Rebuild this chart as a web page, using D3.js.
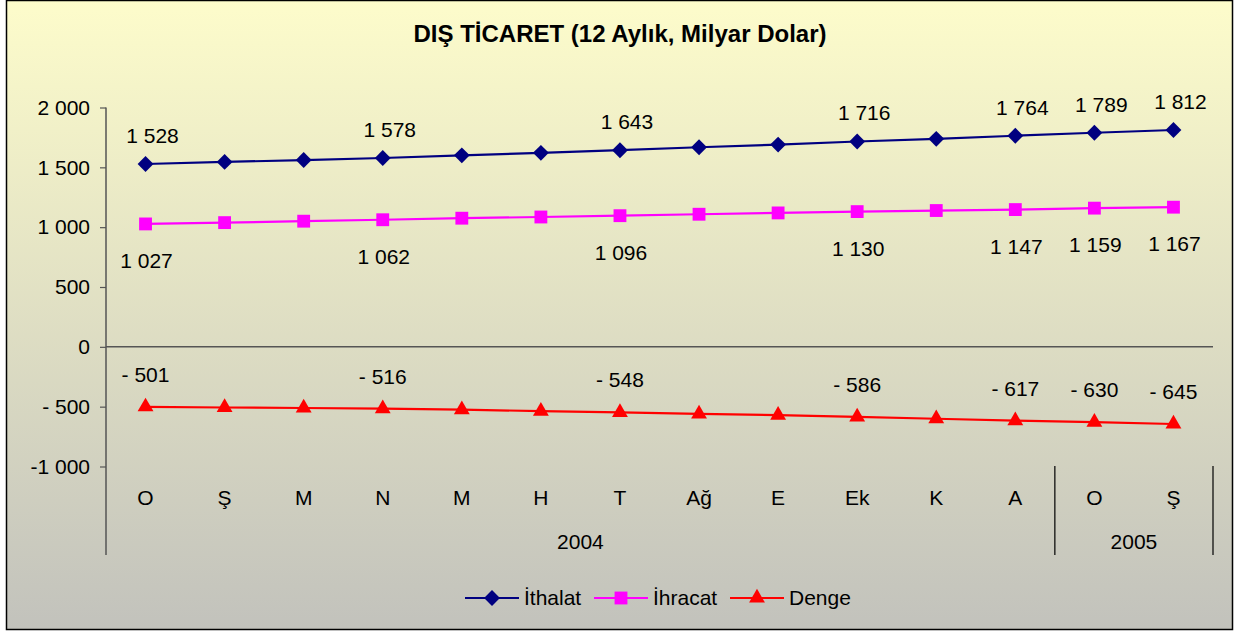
<!DOCTYPE html>
<html>
<head>
<meta charset="utf-8">
<script src="https://cdn.jsdelivr.net/npm/d3@7"></script>
<style>
  body { margin: 0; background: #fff; }
  svg text { font-family: "Liberation Sans", Arial, sans-serif; fill: #000; }
</style>
</head>
<body>
<div id="chart"></div>
<script>
// months shown on the category axis
const months = ['O', 'Ş', 'M', 'N', 'M', 'H', 'T', 'Ağ', 'E', 'Ek', 'K', 'A', 'O', 'Ş']
const years = [{ label: '2004', from: 0, to: 12 }, { label: '2005', from: 12, to: 14 }]
const ithalat = [1528, 1545, 1561, 1578, 1600, 1621, 1643, 1668, 1690, 1716, 1738, 1764, 1789, 1812]
const ihracat = [1027, 1038, 1050, 1062, 1075, 1085, 1096, 1108, 1119, 1130, 1139, 1147, 1159, 1167]
const denge = [-501, -507, -511, -516, -525, -537, -548, -560, -571, -586, -601, -617, -630, -645]
const labelled = [0, 3, 6, 9, 11, 12, 13]
const yTicks = [-1000, -500, 0, 500, 1000, 1500, 2000]
const yTickLabels = ['-1 000', '- 500', '0', '500', '1 000', '1 500', '2 000']

const W = 1237, H = 632
const FS = 21

let svg = d3.select('#chart').append('svg')
    .attr('width', W)
    .attr('height', H)

// background gradient
let grad = svg.append('defs').append('linearGradient')
    .attr('id', 'bg')
    .attr('x1', 0).attr('y1', 0).attr('x2', 0).attr('y2', 1)
grad.append('stop').attr('offset', '0%').attr('stop-color', '#fdfccb')
grad.append('stop').attr('offset', '100%').attr('stop-color', '#c2c2bc')

svg.append('rect')
    .attr('x', 6.5).attr('y', 0.5)
    .attr('width', 1226).attr('height', 629)
    .attr('fill', 'url(#bg)')
    .attr('stroke', '#000')
    .attr('stroke-width', 1.5)

svg.append('text')
    .attr('x', 620).attr('y', 42)
    .attr('text-anchor', 'middle')
    .attr('font-size', 24)
    .attr('font-weight', 'bold')
    .text('DIŞ TİCARET (12 Aylık, Milyar Dolar)')

// scales
let x = d3.scaleBand().domain(d3.range(months.length)).range([106, 1213]).padding(0)
let cx = i => x(i) + x.bandwidth() / 2
let y = d3.scaleLinear().domain([-1000, 2000]).range([466.5, 107.5])

// y axis
let yAxis = svg.append('g')
    .attr('transform', 'translate(106,0)')
    .call(d3.axisLeft(y).tickValues(yTicks).tickSize(6).tickPadding(10)
        .tickFormat((d, i) => yTickLabels[i]))
yAxis.select('.domain').remove()
yAxis.selectAll('line').attr('stroke', '#555').attr('stroke-width', 1.2)
yAxis.selectAll('text').attr('font-size', FS).attr('font-family', '"Liberation Sans", Arial, sans-serif')

svg.append('line')
    .attr('x1', 106).attr('x2', 106)
    .attr('y1', y(2000)).attr('y2', 555)
    .attr('stroke', '#555').attr('stroke-width', 1.5)

// zero line
svg.append('line')
    .attr('x1', 106).attr('x2', 1213)
    .attr('y1', y(0)).attr('y2', y(0))
    .attr('stroke', '#555').attr('stroke-width', 1.5)

// category labels
svg.append('g').selectAll('text')
    .data(months)
    .join('text')
    .attr('x', (d, i) => cx(i))
    .attr('y', 505)
    .attr('text-anchor', 'middle')
    .attr('font-size', FS)
    .text(d => d)

// year groups
let yr = svg.append('g').selectAll('g').data(years).join('g')
yr.append('text')
    .attr('x', d => (x(d.from) + (d.to < months.length ? x(d.to) : 1213)) / 2)
    .attr('y', 549)
    .attr('text-anchor', 'middle')
    .attr('font-size', FS)
    .text(d => d.label)
yr.append('line')
    .attr('x1', d => d.to < months.length ? x(d.to) : 1213)
    .attr('x2', d => d.to < months.length ? x(d.to) : 1213)
    .attr('y1', 466).attr('y2', 555)
    .attr('stroke', '#000').attr('stroke-width', 1.2)

// series
let fmt = v => {
    let s = d3.format(',')(Math.abs(v)).replace(/,/g, ' ')
    return v < 0 ? '- ' + s : s
}
let series = [
    { name: 'İthalat', values: ithalat, color: '#000080', symbol: d3.symbolDiamond2, size: 160, labelDy: -21, labelDx: 7 },
    { name: 'İhracat', values: ihracat, color: '#ff00ff', symbol: d3.symbolSquare2, size: 210, labelDy: 44, labelDx: 1 },
    { name: 'Denge', values: denge, color: '#ff0000', symbol: d3.symbolTriangle2, size: 180, labelDy: -25, labelDx: 0 }
]
let line = d3.line().x((d, i) => cx(i)).y(d => y(d))

series.forEach(s => {
    let g = svg.append('g')
    g.append('path')
        .attr('d', line(s.values))
        .attr('fill', 'none')
        .attr('stroke', s.color)
        .attr('stroke-width', 2.2)
    g.selectAll('path.m')
        .data(s.values)
        .join('path')
        .attr('class', 'm')
        .attr('transform', (d, i) => `translate(${cx(i)},${y(d)})`)
        .attr('d', d3.symbol().type(s.symbol).size(s.size))
        .attr('fill', s.color)
    g.selectAll('text')
        .data(labelled)
        .join('text')
        .attr('x', i => cx(i) + s.labelDx)
        .attr('y', i => y(s.values[i]) + s.labelDy)
        .attr('text-anchor', 'middle')
        .attr('font-size', FS)
        .text(i => fmt(s.values[i]))
})

// legend
let legendX = [465, 594, 730]
let lg = svg.append('g').selectAll('g').data(series).join('g')
    .attr('transform', (d, i) => `translate(${legendX[i]},598)`)
lg.append('line')
    .attr('x1', 0).attr('x2', 54)
    .attr('stroke', d => d.color).attr('stroke-width', 2.2)
lg.append('path')
    .attr('transform', 'translate(27,0)')
    .attr('d', d => d3.symbol().type(d.symbol).size(d.size)())
    .attr('fill', d => d.color)
lg.append('text')
    .attr('x', 59).attr('y', 7)
    .attr('font-size', FS)
    .text(d => d.name)
</script>
</body>
</html>
